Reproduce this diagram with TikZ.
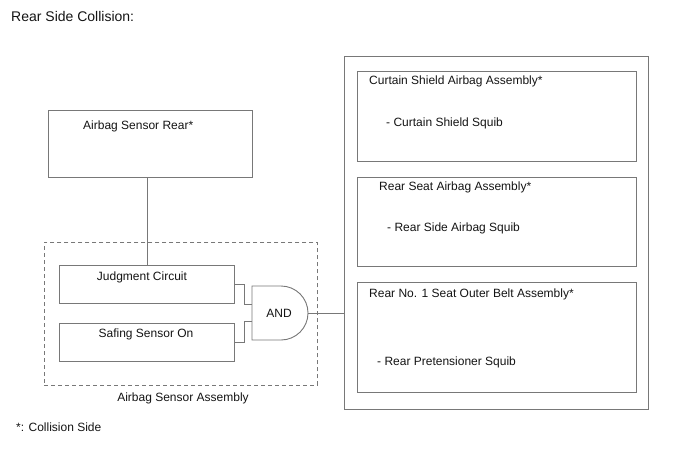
\documentclass[tikz,border=0pt]{standalone}
\usepackage{fontspec}
\setmainfont{Liberation Sans}
\definecolor{ln}{RGB}{120,120,120}
\definecolor{tx}{RGB}{20,20,20}
\begin{document}
\begin{tikzpicture}[x=1pt,y=-1pt,
  box/.style={draw=ln,line width=0.9pt,anchor=north west,inner sep=0pt},
  lbl/.style={anchor=west,inner sep=0pt,text=tx,font=\fontsize{12}{14}\selectfont},
  wire/.style={draw=ln,line width=0.9pt}]
\useasboundingbox (0,0) rectangle (688,463);
\node[anchor=west,inner sep=0pt,text=tx,font=\fontsize{14}{16}\selectfont] (title) at (11,16) {Rear Side Collision:};
% Airbag sensor rear
\node[box,minimum width=204pt,minimum height=67pt] (rear) at (48,110) {};
\node[lbl] (rearT) at (83,126) {Airbag Sensor Rear*};
% dashed assembly
\node[box,dashed,dash pattern=on 4pt off 3pt,minimum width=273pt,minimum height=143pt] (assy) at (44,242) {};
\node[lbl,anchor=center] (assyT) at (183,398) {Airbag Sensor Assembly};
\node[box,minimum width=175pt,minimum height=38pt] (judg) at (59,265) {};
\node[lbl,anchor=center] (judgT) at (142,277) {Judgment Circuit};
\node[box,minimum width=175pt,minimum height=38pt] (saf) at (59,323) {};
\node[lbl,anchor=center] (safT) at (146,334) {Safing Sensor On};
% AND gate
\draw[wire,fill=white] (252,286) -- (281,286) arc[start angle=90,end angle=-90,radius=27pt] -- (252,340) -- cycle;
\node[lbl,anchor=center] (and) at (279,313) {AND};
\coordinate (in1) at (252,304);
\coordinate (in2) at (252,321);
\coordinate (out) at (308,313);
% right big box
\node[box,minimum width=304pt,minimum height=353pt] (big) at (344,56) {};
\node[box,minimum width=279pt,minimum height=90pt] (b1) at (357,71) {};
\node[lbl] (b1a) at (369,81) {Curtain Shield Airbag Assembly*};
\node[lbl] (b1b) at (386,123) {- Curtain Shield Squib};
\node[box,minimum width=279pt,minimum height=89pt] (b2) at (357,177) {};
\node[lbl] (b2a) at (379,187) {Rear Seat Airbag Assembly*};
\node[lbl] (b2b) at (387,228) {- Rear Side Airbag Squib};
\node[box,minimum width=279pt,minimum height=110pt] (b3) at (357,282) {};
\node[lbl] (b3a) at (369,294) {Rear No. 1 Seat Outer Belt Assembly*};
\node[lbl] (b3b) at (377,362) {- Rear Pretensioner Squib};
% connectors
\draw[wire] (rear.south -| 147,0) -- (judg.north -| 147,0);
\draw[wire] (judg.east |- 0,284) -- (244,284) -- (244,304) -- (in1);
\draw[wire] (in2) -- (244,321) -- (244,342) -- (saf.east |- 0,342);
\draw[wire] (out) -- (big.west |- out);
\node[lbl] (foot) at (16,427) {*: Collision Side};
\end{tikzpicture}
\end{document}
